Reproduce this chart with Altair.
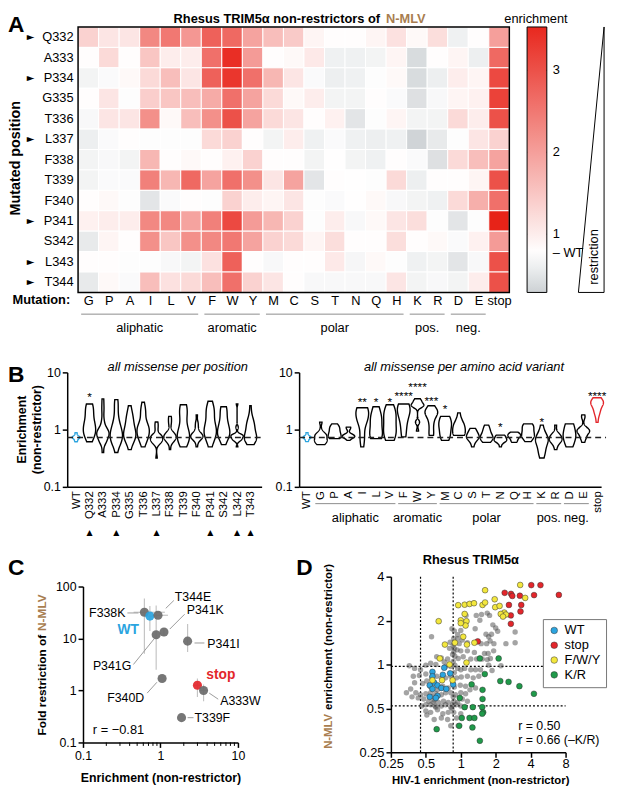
import json
import pandas as pd
import altair as alt

FONT = "Liberation Sans"
W, H = 609, 786
BROWN = "#a87d50"
BLUE = "#2ba4df"
RED = "#e3262b"
YELLOW = "#f3e73d"
GREEN = "#1f9a4a"

# ---------------- Panel A : heatmap ----------------
ROWS = ["Q332", "A333", "P334", "G335", "T336", "L337", "F338", "T339", "F340",
        "P341", "S342", "L343", "T344"]
COLS = ["G", "P", "A", "I", "L", "V", "F", "W", "Y", "M", "C", "S", "T", "N", "Q",
        "H", "K", "R", "D", "E", "stop"]
ENRICH = [
    [1.35, 1.1, 1.1, 2.3, 2.5, 2.1, 2.8, 2.7, 1.95, 1.6, 1.45, 0.9, 0.8, 0.8, 0.9, 1.15, 0.85, 1.2, 0.62, 0.8, 2.0],
    [0.8, 1.25, 0.8, 1.5, 1.0, 1.0, 2.6, 3.45, 2.05, 0.8, 0.85, 1.05, 0.62, 0.62, 0.65, 0.9, 0.4, 0.8, 0.9, 0.6, 2.7],
    [0.65, 0.72, 0.85, 1.25, 1.6, 1.1, 2.8, 3.35, 2.6, 1.7, 1.1, 0.72, 0.6, 0.62, 0.75, 0.85, 0.4, 0.6, 1.0, 0.9, 3.1],
    [0.8, 1.1, 0.75, 1.4, 1.5, 1.6, 1.85, 2.6, 1.95, 1.25, 0.85, 1.0, 0.65, 0.65, 0.8, 0.72, 0.45, 0.7, 0.9, 0.95, 3.2],
    [0.7, 1.1, 1.1, 2.2, 0.85, 1.6, 2.2, 3.0, 1.95, 1.25, 1.1, 0.8, 0.95, 0.5, 0.75, 0.9, 0.65, 0.65, 1.25, 1.0, 3.0],
    [0.6, 0.72, 0.8, 0.75, 0.75, 0.75, 1.25, 1.35, 0.8, 0.65, 1.0, 0.62, 0.72, 0.62, 0.6, 0.62, 0.32, 0.55, 0.75, 1.1, 1.35],
    [0.65, 0.7, 0.65, 1.7, 0.8, 0.85, 0.8, 0.95, 1.35, 0.8, 0.8, 0.65, 0.78, 0.65, 0.62, 0.8, 0.72, 0.45, 1.25, 1.6, 1.95],
    [0.65, 0.72, 0.72, 2.4, 1.7, 2.7, 1.95, 2.6, 2.2, 1.1, 1.95, 0.5, 0.8, 0.78, 0.75, 1.25, 0.6, 0.8, 0.8, 0.9, 3.0],
    [0.8, 0.85, 0.75, 0.5, 0.72, 0.8, 0.75, 1.35, 1.0, 0.9, 1.1, 0.75, 0.72, 0.78, 0.85, 0.7, 0.65, 0.62, 1.25, 1.8, 2.6],
    [0.95, 1.0, 1.0, 2.3, 2.3, 1.95, 2.4, 3.1, 2.05, 1.7, 1.35, 0.75, 1.0, 0.7, 0.85, 1.1, 1.2, 0.75, 0.5, 0.75, 3.6],
    [0.55, 0.9, 0.8, 2.2, 1.5, 2.2, 2.3, 2.5, 1.95, 1.35, 1.25, 0.9, 1.2, 0.8, 0.8, 1.2, 0.8, 0.85, 0.72, 0.95, 2.05],
    [0.8, 0.8, 0.75, 0.75, 0.7, 0.65, 1.15, 2.8, 0.8, 0.7, 0.8, 0.8, 1.05, 0.68, 0.85, 0.75, 0.62, 0.65, 0.5, 0.7, 3.0],
    [0.55, 0.85, 0.72, 1.6, 1.15, 1.25, 1.6, 2.6, 1.35, 1.1, 0.8, 0.7, 0.7, 0.7, 0.7, 1.1, 0.65, 0.7, 0.65, 1.0, 3.0],
]
ARROW_ROWS = ["Q332", "P334", "L337", "P341", "L343", "T344"]
GROUPS = ["aliphatic", "aromatic", "polar", "pos.", "neg."]
GROUP_FIRST = ["G", "F", "M", "K", "D"]
GROUP_LAST = ["V", "Y", "H", "R", "E"]
CBAR_DOMAIN = [0.29, 0.77, 3.53]
CBAR_COLORS = ["#cdd1d4", "#ffffff", "#e8281e"]
CBAR_TICKS = [0.77, 1, 2, 3]
CBAR_INNER_TICKS = [1, 2, 3]

# ---------------- Panel B : violins ----------------
B_LEFT_LABELS = ["WT", "Q332", "A333", "P334", "G335", "T336", "L337", "F338", "T339",
                 "F340", "P341", "S342", "L342", "T343"]
B_LEFT_ARROWS = ["Q332", "P334", "L337", "P341", "L342", "T343"]
B_RIGHT_LABELS = ["WT"] + COLS
WT_REPS = [0.62, 0.66, 0.70, 0.72, 0.73, 0.74, 0.76, 0.80, 0.88]
WT_LINE = 0.73
STARS_LEFT = [("Q332", "*", 4.4)]
STARS_RIGHT = [("I", "**", 3.5), ("L", "*", 3.5), ("V", "*", 3.5), ("F", "****", 4.5),
               ("W", "****", 6.6), ("Y", "***", 3.7), ("M", "*", 2.7), ("N", "*", 1.3),
               ("K", "*", 1.6), ("stop", "****", 4.5)]

# ---------------- Panel C : scatter ----------------
C_NAMES = ["F338K", "WT", "T344E", "P341K", "P341G", "P341I", "F340D", "stop", "A333W", "T339F"]
C_X = [0.62, 0.73, 0.93, 1.11, 0.88, 2.24, 1.05, 3.0, 3.6, 1.87]
C_Y = [32, 27, 28, 13.3, 11.8, 8.9, 1.7, 1.26, 1.0, 0.3]
C_KIND = ["mut", "wt", "mut", "mut", "mut", "mut", "mut", "stop", "mut", "mut"]
EBX_Y = [32, 27, 28, 1.26, 1.0]
EBX_LO = [0.45, 0.62, 0.78, 2.7, 3.2]
EBX_HI = [1.14, 0.86, 1.25, 3.3, 4.1]
EBY_X = [0.62, 0.73, 0.88, 1.11, 2.24, 3.0, 3.6]
EBY_LO = [5.1, 14, 2.5, 11, 5.5, 0.75, 0.62]
EBY_HI = [59, 42, 43, 16, 19, 1.7, 1.3]
LBL_NAMES = ["F338K", "T344E", "P341K", "P341I", "P341G", "F340D", "A333W", "T339F"]
LBL_X = [0.353, 1.53, 2.18, 4.03, 0.42, 0.617, 5.9, 2.75]
LBL_Y = [30.6, 61.5, 34.9, 7.9, 2.9, 0.71, 0.63, 0.30]
LBL_ALIGN = ["right", "left", "left", "left", "right", "right", "left", "left"]
LEAD_X1 = [0.374, 1.17, 1.32, 2.75, 0.447, 0.673, 4.26, 2.24]
LEAD_Y1 = [31, 38, 15.2, 8.2, 3.16, 0.89, 0.89, 0.30]
LEAD_X2 = [0.52, 1.49, 2.05, 3.69, 0.826, 0.90, 5.56, 2.67]
LEAD_Y2 = [31, 54, 29.3, 8.2, 9.8, 1.44, 0.68, 0.30]
C_MINOR = [0.2, 0.3, 0.4, 0.5, 0.6, 0.7, 0.8, 0.9, 2, 3, 4, 5, 6, 7, 8, 9]

# ---------------- Panel D : scatter ----------------
STOP_X = [4.05, 4.86, 2.39, 2.71, 2.78, 3.23, 4.28, 7.0, 3.32, 2.6, 3.27, 2.7, 2.7, 1.4]
STOP_Y = [3.5, 3.5, 3.1, 3.05, 2.95, 2.96, 2.99, 3.0, 2.56, 2.56, 2.31, 2.17, 1.9, 1.44]
FWY_X = [1.62, 3.25, 3.59, 1.96, 0.95, 1.08, 1.19, 1.30, 1.54, 1.62, 1.98, 2.16, 2.37, 2.21, 2.45,
         2.31, 0.645, 1.0, 1.08, 1.12, 1.10, 1.0, 0.89, 1.05, 1.13, 1.31, 0.73, 0.66, 0.80, 1.12,
         0.57, 0.69, 0.85]
FWY_Y = [3.23, 3.51, 2.86, 2.80, 2.55, 2.57, 2.60, 2.63, 2.56, 2.66, 2.47, 2.52, 2.27, 2.22, 2.20,
         2.13, 1.98, 2.01, 2.22, 1.98, 1.85, 1.92, 1.41, 1.55, 1.37, 1.41, 1.37, 1.10, 1.0, 1.03,
         0.78, 0.78, 0.78]
KR_X = [1.46, 2.12, 1.61, 2.19, 2.58, 3.2, 4.27, 1.54, 1.54, 0.98, 1.08, 1.27, 1.53, 1.56, 1.53,
        1.02, 1.19, 1.31, 0.97, 1.26, 0.62, 1.46, 1.24]
KR_Y = [1.10, 1.10, 0.86, 0.77, 0.76, 0.71, 0.63, 0.67, 0.58, 0.59, 0.51, 0.51, 0.51, 0.47, 0.46,
        0.43, 0.43, 0.43, 0.38, 0.37, 0.36, 0.30, 0.73]
WTD_X = [0.57, 0.57, 0.70, 0.72, 0.81, 0.59, 0.63, 0.54, 0.57, 0.68, 0.75, 0.63, 0.61, 0.54, 0.86]
WTD_Y = [0.89, 0.83, 0.85, 0.95, 0.87, 0.75, 0.72, 0.72, 0.68, 0.69, 0.68, 0.61, 0.59, 0.60, 0.73]
GRAY_X = [1.11, 1.36, 1.51, 1.69, 1.77, 1.46, 1.89, 1.33, 0.84, 0.88, 1.0, 1.65, 1.84, 0.94, 1.74,
          2.08, 2.0, 2.94, 0.56, 0.87, 0.94, 1.03, 0.81, 0.97, 1.14, 1.50, 1.67, 1.79, 1.93, 2.45,
          2.94, 0.80, 0.88, 0.93, 1.0, 1.14, 1.31, 1.60, 1.72, 1.92, 0.62, 0.68, 0.77, 0.89, 0.95,
          1.05, 1.22, 1.37, 1.53, 1.69, 1.80, 0.36, 0.40, 0.45, 0.50, 0.55, 0.61, 0.72, 0.74, 0.82,
          0.89, 0.94, 1.0, 1.08, 1.22, 1.34, 1.48, 1.74, 1.86, 2.22, 0.39, 0.44, 0.50, 0.56, 0.62,
          0.68, 0.74, 0.82, 0.92, 1.01, 1.14, 1.28, 1.43, 0.40, 0.47, 0.51, 0.55, 0.63, 0.70, 0.78,
          0.88, 0.99, 1.10, 1.20, 1.34, 0.34, 0.37, 0.41, 0.45, 0.50, 0.55, 0.61, 0.68, 0.74, 0.82,
          0.90, 1.0, 1.10, 0.38, 0.43, 0.48, 0.53, 0.58, 0.64, 0.71, 0.78, 0.87, 0.94, 1.03, 1.14,
          0.46, 0.50, 0.55, 0.61, 0.68, 0.74, 0.82, 0.91, 1.0, 0.50, 0.55, 0.63, 0.70, 0.78, 0.87,
          1.0, 0.51, 0.59, 0.68, 0.77, 0.92, 0.82, 0.95, 0.86, 0.87, 0.85, 0.86, 0.88, 0.85, 0.86,
          0.85, 0.84, 0.59, 0.57, 0.60]
GRAY_Y = [2.17, 2.17, 2.20, 2.25, 2.17, 2.01, 1.87, 1.76, 1.76, 1.70, 1.71, 1.61, 1.61, 1.60, 1.55,
          1.69, 1.78, 1.67, 1.55, 1.51, 1.50, 1.47, 1.42, 1.39, 1.41, 1.39, 1.39, 1.45, 1.39, 1.39,
          1.41, 1.29, 1.29, 1.26, 1.24, 1.24, 1.21, 1.19, 1.19, 1.24, 1.13, 1.11, 1.09, 1.14, 1.10,
          1.13, 1.09, 1.09, 1.09, 1.08, 1.10, 0.98, 0.94, 0.92, 0.99, 1.02, 1.0, 1.04, 0.97, 0.97,
          0.99, 0.94, 0.92, 0.94, 0.92, 0.92, 0.92, 0.99, 0.91, 0.98, 0.83, 0.84, 0.86, 0.81, 0.83,
          0.81, 0.81, 0.83, 0.81, 0.82, 0.83, 0.81, 0.83, 0.75, 0.74, 0.77, 0.70, 0.67, 0.71, 0.69,
          0.70, 0.72, 0.71, 0.67, 0.69, 0.64, 0.68, 0.64, 0.62, 0.63, 0.64, 0.63, 0.62, 0.64, 0.64,
          0.62, 0.64, 0.63, 0.60, 0.59, 0.58, 0.56, 0.55, 0.55, 0.56, 0.55, 0.56, 0.55, 0.58, 0.56,
          0.52, 0.53, 0.53, 0.51, 0.52, 0.53, 0.51, 0.53, 0.52, 0.48, 0.47, 0.49, 0.46, 0.47, 0.47,
          0.46, 0.45, 0.42, 0.43, 0.42, 0.43, 0.38, 0.38, 1.35, 1.22, 1.17, 1.05, 0.88, 0.76, 0.60,
          0.53, 0.50, 0.57, 0.60, 0.52]
D_VLINES = [0.45, 0.86]
D_HLINES = [0.97, 0.52]

# ---------------- helpers ----------------
ONE = pd.DataFrame({"k": [0]})
LAYERS = []


def label(s, x, y, size=13, weight="normal", color="black", align="center", angle=0,
          style="normal", baseline="middle", font=FONT):
    LAYERS.append(alt.Chart(ONE).mark_text(
        text=s, fontSize=size, fontWeight=weight, color=color, align=align, angle=angle,
        fontStyle=style, baseline=baseline, font=font
    ).encode(x=alt.value(x), y=alt.value(y)))


def vrule(x1, y1, x2, y2, color="black", width=1.0):
    LAYERS.append(alt.Chart(ONE).mark_rule(color=color, strokeWidth=width).encode(
        x=alt.value(x1), y=alt.value(y1), x2=alt.value(x2), y2=alt.value(y2)))


def ax(**kw):
    base = dict(domainColor="black", tickColor="black", labelColor="black", domainWidth=1.5,
                tickWidth=1.5, grid=False, labelFont=FONT, title=None, labelFlush=False)
    base.update(kw)
    return alt.Axis(**base)


# ================= Panel A =================
heat_df = pd.DataFrame([{"row": r, "ci": j, "v": ENRICH[i][j]}
                        for i, r in enumerate(ROWS) for j in range(len(COLS))])
xA = alt.Scale(domain=[0, len(COLS)], range=[71, 508], nice=False, zero=False)
yA = alt.Scale(domain=ROWS, range=[14, 283], paddingInner=0, paddingOuter=0)

LAYERS.append(alt.Chart(heat_df).transform_calculate(ce="datum.ci + 1").mark_rect(
    stroke="white", strokeWidth=1
).encode(
    x=alt.X("ci:Q", scale=xA, axis=ax(orient="bottom", offset=283 - H,
            values=[j + 0.5 for j in range(len(COLS))],
            labelExpr=json.dumps(COLS) + "[floor(datum.value)]", domain=False, ticks=False,
            labelPadding=2, labelFontSize=13, labelOverlap=False, labelAngle=0)),
    x2="ce",
    y=alt.Y("row:N", scale=yA, axis=ax(orient="left", offset=-71, domain=False, ticks=False,
            labelPadding=5, labelFontSize=13)),
    color=alt.Color("v:Q", scale=alt.Scale(domain=CBAR_DOMAIN, range=CBAR_COLORS, interpolate="rgb"),
                    legend=alt.Legend(orient="none", legendX=526, legendY=14, direction="vertical",
                                      gradientLength=269, gradientThickness=20, values=CBAR_TICKS,
                                      labelExpr="datum.value < 0.9 ? '\u2013 WT' : format(datum.value, 'd')",
                                      title=None, padding=0, labelOffset=6, labelFontSize=13,
                                      labelFont=FONT, labelBaseline="middle", labelColor="black",
                                      gradientStrokeColor="black", gradientStrokeWidth=1,
                                      labelOverlap=False)),
))
LAYERS.append(alt.Chart(ONE).mark_rect(fillOpacity=0, stroke="black", strokeWidth=1.5).encode(
    x=alt.value(71), x2=alt.value(508), y=alt.value(14), y2=alt.value(283)))
# small ticks inside the colour bar at 1, 2, 3
yCB = alt.Scale(domain=[CBAR_DOMAIN[0], CBAR_DOMAIN[-1]], range=[283, 14], nice=False, zero=False)
for xa, xb in [(526, 530), (542, 546)]:
    LAYERS.append(alt.Chart(pd.DataFrame({"v": CBAR_INNER_TICKS})).mark_rule(
        color="black", strokeWidth=1.2).encode(
        y=alt.Y("v:Q", scale=yCB, axis=None), x=alt.value(xa), x2=alt.value(xb)))
LAYERS.append(alt.Chart(pd.DataFrame({"row": ARROW_ROWS})).mark_text(
    text="\u25ba", align="left", fontSize=10, font="DejaVu Sans", color="black"
).encode(x=alt.value(19), y=alt.Y("row:N", scale=yA, axis=None)))
grp_df = pd.DataFrame({"g": GROUPS,
                       "first": [COLS.index(c) for c in GROUP_FIRST],
                       "last": [COLS.index(c) for c in GROUP_LAST]})
LAYERS.append(alt.Chart(grp_df).transform_calculate(
    xs="datum.first + 0.15", xe="datum.last + 0.85"
).mark_rule(color="#8c8c8c", strokeWidth=1).encode(
    x=alt.X("xs:Q", scale=xA, axis=None), x2="xe", y=alt.value(305)))
LAYERS.append(alt.Chart(grp_df).transform_calculate(
    xm="(datum.first + datum.last + 1) / 2"
).mark_text(fontSize=13, font=FONT, color="black").encode(
    x=alt.X("xm:Q", scale=xA, axis=None), y=alt.value(319), text="g:N"))

label("Rhesus TRIM5\u03b1 non-restrictors of", 377, 6, weight="bold", align="right")
label("N-MLV", 383, 6, weight="bold", align="left", color=BROWN)
label("A", 0, 12, size=23, weight="bold", align="left")
label("Mutated position", 8, 147, size=14.5, weight="bold", angle=270)
label("Mutation:", 63, 291, weight="bold", align="right")
label("enrichment", 535, 6)
vrule(604, 14, 578, 283)
vrule(578, 283, 604, 283)
vrule(604, 283, 604, 14)
label("restriction", 594, 247, angle=270)

# ================= Panel B =================
yB = alt.Scale(type="log", domain=[0.1, 10], range=[480, 364], nice=False)
xBL = alt.Scale(domain=[-0.66, 13.83], range=[60, 257], nice=False, zero=False)
xBR = alt.Scale(domain=[-0.571, 21.29], range=[295, 601], nice=False, zero=False)


def violin_layers(rows, labels, xs, x0, stars, x_end):
    LAYERS.append(alt.Chart(pd.DataFrame(rows)).transform_calculate(
        lv="log(datum.v) / LN10"
    ).transform_joinaggregate(
        mn="min(lv)", mx="max(lv)", groupby=["idx"]
    ).transform_density(
        "lv", groupby=["idx", "kind", "mn", "mx"], as_=["lv", "dens"], steps=240
    ).transform_filter(
        "datum.lv >= datum.mn - 0.004 && datum.lv <= datum.mx + 0.004"
    ).transform_joinaggregate(
        maxd="max(dens)", groupby=["idx"]
    ).transform_calculate(
        yv="pow(10, datum.lv)",
        half="(datum.kind == 'wt' ? 0.3 : 0.46) * datum.dens / datum.maxd",
    ).transform_calculate(
        xl="datum.idx - datum.half", xr="datum.idx + datum.half"
    ).mark_area(orient="horizontal", fill="white", fillOpacity=1, strokeWidth=1.4).encode(
        x=alt.X("xl:Q", scale=xs, axis=ax(orient="bottom", offset=480 - H,
                values=list(range(len(labels))),
                labelExpr=json.dumps(labels) + "[round(datum.value)]", labelAngle=270,
                ticks=False, labelFontSize=11.5, labelPadding=4, labelOverlap=False)),
        x2="xr",
        y=alt.Y("yv:Q", scale=yB, axis=ax(orient="left", offset=-x0, values=[0.1, 1, 10],
                format="~g", tickSize=5, labelFontSize=12.5, labelPadding=2)),
        stroke=alt.Stroke("kind:N", scale=alt.Scale(domain=["wt", "mis", "stop"],
                          range=[BLUE, "black", RED]), legend=None),
        detail="idx:N",
    ))
    LAYERS.append(alt.Chart(pd.DataFrame({"y": [WT_LINE]})).mark_rule(
        strokeDash=[6, 4], strokeWidth=1.5, color="#222"
    ).encode(y=alt.Y("y:Q", scale=yB, axis=None), x=alt.value(x0), x2=alt.value(x_end)))
    st_df = pd.DataFrame({"idx": [labels.index(s[0]) for s in stars],
                          "s": [s[1] for s in stars], "y": [s[2] for s in stars]})
    LAYERS.append(alt.Chart(st_df).mark_text(fontSize=12, dy=4, font=FONT, color="black").encode(
        x=alt.X("idx:Q", scale=xs, axis=None), y=alt.Y("y:Q", scale=yB, axis=None), text="s:N"))


bl_rows = [{"idx": 0, "kind": "wt", "v": v} for v in WT_REPS]
for i in range(len(ROWS)):
    for j in range(len(COLS) - 1):
        bl_rows.append({"idx": i + 1, "kind": "mis", "v": ENRICH[i][j]})
br_rows = [{"idx": 0, "kind": "wt", "v": v} for v in WT_REPS]
for j, c in enumerate(COLS):
    for i in range(len(ROWS)):
        br_rows.append({"idx": j + 1, "kind": "stop" if c == "stop" else "mis", "v": ENRICH[i][j]})

violin_layers(bl_rows, B_LEFT_LABELS, xBL, 60, STARS_LEFT, 259)
LAYERS.append(alt.Chart(pd.DataFrame({"idx": [B_LEFT_LABELS.index(a) for a in B_LEFT_ARROWS]})).mark_text(
    text="\u25b2", fontSize=8, font="DejaVu Sans", color="black"
).encode(x=alt.X("idx:Q", scale=xBL, axis=None), y=alt.value(527)))
label("B", 0, 367, size=23, weight="bold", align="left")
label("Enrichment", 14, 422, size=12.5, weight="bold", angle=270)
label("(non-restrictor)", 29, 422, size=12.5, weight="bold", angle=270)
label("all missense per position", 172, 359, style="italic")

violin_layers(br_rows, B_RIGHT_LABELS, xBR, 295, STARS_RIGHT, 606)
bgrp_df = pd.DataFrame({"g": GROUPS,
                        "first": [B_RIGHT_LABELS.index(c) for c in GROUP_FIRST],
                        "last": [B_RIGHT_LABELS.index(c) for c in GROUP_LAST]})
LAYERS.append(alt.Chart(bgrp_df).transform_calculate(
    xs="datum.first - 0.4", xe="datum.last + 0.4"
).mark_rule(color="#8c8c8c", strokeWidth=1).encode(
    x=alt.X("xs:Q", scale=xBR, axis=None), x2="xe", y=alt.value(497)))
LAYERS.append(alt.Chart(bgrp_df).transform_calculate(
    xm="(datum.first + datum.last) / 2"
).mark_text(fontSize=13, font=FONT, color="black").encode(
    x=alt.X("xm:Q", scale=xBR, axis=None), y=alt.value(512), text="g:N"))
label("all missense per amino acid variant", 462, 359, style="italic")

# ================= Panel C =================
xC = alt.Scale(type="log", domain=[0.1, 10], range=[76, 233], nice=False)
yC = alt.Scale(type="log", domain=[0.1, 100], range=[739, 581], nice=False)
EBC = "#c4c4c4"
KIND_SCALE = alt.Scale(domain=["mut", "wt", "stop"], range=["#6a6a6a", BLUE, RED])
LAYERS.append(alt.Chart(pd.DataFrame({"x": C_MINOR})).mark_rule(color="black", strokeWidth=1).encode(
    x=alt.X("x:Q", scale=xC, axis=None), y=alt.value(739), y2=alt.value(742.5)))
LAYERS.append(alt.Chart(pd.DataFrame({"y": EBX_Y, "lo": EBX_LO, "hi": EBX_HI})).mark_rule(
    color=EBC, strokeWidth=1.2).encode(
    x=alt.X("lo:Q", scale=xC, axis=None), x2="hi", y=alt.Y("y:Q", scale=yC, axis=None)))
LAYERS.append(alt.Chart(pd.DataFrame({"x": EBY_X, "lo": EBY_LO, "hi": EBY_HI})).mark_rule(
    color=EBC, strokeWidth=1.2).encode(
    y=alt.Y("lo:Q", scale=yC, axis=None), y2="hi", x=alt.X("x:Q", scale=xC, axis=None)))
LAYERS.append(alt.Chart(pd.DataFrame({"x1": LEAD_X1, "y1": LEAD_Y1, "x2": LEAD_X2, "y2": LEAD_Y2})).mark_rule(
    color="#9a9a9a", strokeWidth=1).encode(
    x=alt.X("x1:Q", scale=xC, axis=None), y=alt.Y("y1:Q", scale=yC, axis=None), x2="x2", y2="y2"))
LAYERS.append(alt.Chart(pd.DataFrame({"name": C_NAMES, "x": C_X, "y": C_Y, "kind": C_KIND})).mark_circle(
    size=85, opacity=0.92).encode(
    x=alt.X("x:Q", scale=xC, axis=ax(orient="bottom", offset=739 - H, values=[0.1, 1, 10],
            format="~g", tickSize=5, labelFontSize=12.5, labelPadding=2)),
    y=alt.Y("y:Q", scale=yC, axis=ax(orient="left", offset=-76, values=[0.1, 1, 10, 100],
            format="~g", tickSize=5, labelFontSize=12.5, labelPadding=2)),
    color=alt.Color("kind:N", scale=KIND_SCALE, legend=None),
))
lbl_df = pd.DataFrame({"name": LBL_NAMES, "x": LBL_X, "y": LBL_Y, "align": LBL_ALIGN})
for al in ["left", "right"]:
    LAYERS.append(alt.Chart(lbl_df[lbl_df["align"] == al]).mark_text(
        align=al, fontSize=12.5, font=FONT, color="black").encode(
        x=alt.X("x:Q", scale=xC, axis=None), y=alt.Y("y:Q", scale=yC, axis=None), text="name:N"))
LAYERS.append(alt.Chart(pd.DataFrame({"t": ["WT", "stop"], "x": [0.279, 3.91], "y": [14.6, 1.95],
                                      "kind": ["wt", "stop"]})).mark_text(
    align="left", fontSize=14, fontWeight="bold", font=FONT).encode(
    x=alt.X("x:Q", scale=xC, axis=None), y=alt.Y("y:Q", scale=yC, axis=None), text="t:N",
    color=alt.Color("kind:N", scale=KIND_SCALE, legend=None)))
LAYERS.append(alt.Chart(pd.DataFrame({"t": ["r = \u22120.81"], "x": [0.134], "y": [0.177]})).mark_text(
    align="left", fontSize=13, font=FONT, color="black").encode(
    x=alt.X("x:Q", scale=xC, axis=None), y=alt.Y("y:Q", scale=yC, axis=None), text="t:N"))
label("C", 0, 562, size=23, weight="bold", align="left")
label("Fold restriction of", 34, 630, size=12, weight="bold", angle=270, align="right")
label("N-MLV", 34, 626, size=12, weight="bold", angle=270, align="left", color=BROWN)
label("Enrichment (non-restrictor)", 155, 775, size=12.5, weight="bold")

# ================= Panel D =================
xD = alt.Scale(type="log", base=2, domain=[0.25, 8], range=[388, 565], nice=False)
yD = alt.Scale(type="log", base=2, domain=[0.25, 4], range=[749, 571], nice=False)
LAYERS.append(alt.Chart(pd.DataFrame({"x": D_VLINES})).mark_rule(
    strokeDash=[2, 2], color="black", strokeWidth=1.2).encode(
    x=alt.X("x:Q", scale=xD, axis=None), y=alt.value(571), y2=alt.value(749)))
LAYERS.append(alt.Chart(pd.DataFrame({"y": D_HLINES})).mark_rule(
    strokeDash=[2, 2], color="black", strokeWidth=1.2).encode(
    y=alt.Y("y:Q", scale=yD, axis=None), x=alt.value(388), x2=alt.value(565)))
LAYERS.append(alt.Chart(pd.DataFrame({"x": GRAY_X, "y": GRAY_Y})).mark_circle(
    size=30, color="#4a4a4a", opacity=0.5).encode(
    x=alt.X("x:Q", scale=xD, axis=ax(orient="bottom", offset=749 - H,
            values=[0.25, 0.5, 1, 2, 4, 8], format="~g", tickSize=5, labelFontSize=13,
            labelPadding=0)),
    y=alt.Y("y:Q", scale=yD, axis=ax(orient="left", offset=-388, values=[0.25, 0.5, 1, 2, 4],
            format="~g", tickSize=5, labelFontSize=13, labelPadding=2)),
))
col_rows = ([{"x": a, "y": b, "grp": "WT"} for a, b in zip(WTD_X, WTD_Y)] +
            [{"x": a, "y": b, "grp": "stop"} for a, b in zip(STOP_X, STOP_Y)] +
            [{"x": a, "y": b, "grp": "F/W/Y"} for a, b in zip(FWY_X, FWY_Y)] +
            [{"x": a, "y": b, "grp": "K/R"} for a, b in zip(KR_X, KR_Y)])
LAYERS.append(alt.Chart(pd.DataFrame(col_rows)).mark_circle(
    size=34, opacity=1, stroke="#333", strokeWidth=0.5).encode(
    x=alt.X("x:Q", scale=xD, axis=None),
    y=alt.Y("y:Q", scale=yD, axis=None),
    color=alt.Color("grp:N", scale=alt.Scale(domain=["WT", "stop", "F/W/Y", "K/R"],
                    range=[BLUE, RED, YELLOW, GREEN]),
                    legend=alt.Legend(orient="none", legendX=542, legendY=614, title=None,
                                      symbolType="circle", symbolSize=45, labelFontSize=13,
                                      labelFont=FONT, labelColor="black", strokeColor="#777",
                                      fillColor="white", padding=5, rowPadding=1,
                                      symbolStrokeColor="#333", symbolStrokeWidth=0.5,
                                      labelOffset=4)),
))
label("D", 292, 562, size=23, weight="bold", align="left")
label("Rhesus TRIM5\u03b1", 469, 554, weight="bold")
label("N-MLV", 325, 710, size=11.5, weight="bold", angle=270, align="right", color=BROWN)
label("enrichment (non-restrictor)", 325, 706, size=11.5, weight="bold", angle=270, align="left")
label("HIV-1 enrichment (non-restrictor)", 479, 778, size=11.5, weight="bold")
label("r = 0.50", 517, 722, size=12.5, align="left")
label("r = 0.66 (\u2013K/R)", 517, 737, size=12.5, align="left")

chart = alt.layer(*LAYERS).resolve_scale(
    x="independent", y="independent", color="independent", stroke="independent"
).properties(
    width=W, height=H, autosize=alt.AutoSizeParams(type="none"), padding=0
).configure_view(strokeWidth=0)

chart.save("out.html", embed_options={"renderer": "svg", "actions": False})
